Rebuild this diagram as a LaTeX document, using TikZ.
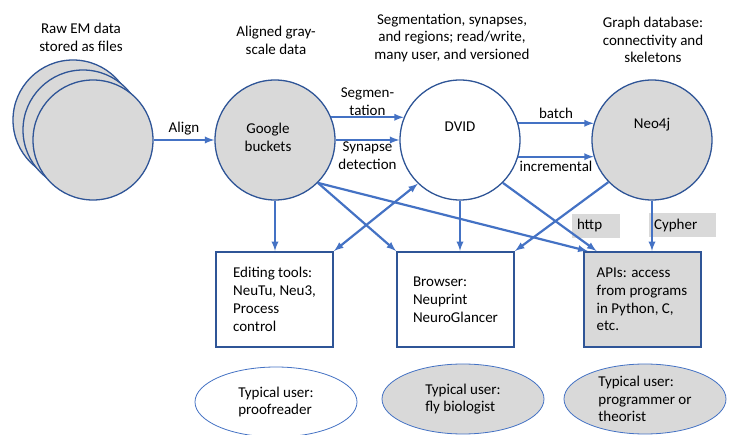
\documentclass[tikz,border=0pt]{standalone}
\usepackage{fontspec}
\setmainfont{Carlito}
\usetikzlibrary{shapes.geometric, arrows, positioning}

\definecolor{linkblue}{RGB}{68,114,196}
\definecolor{edgeblue}{RGB}{47,85,151}
\definecolor{fillgray}{RGB}{217,217,217}

\begin{document}
\begin{tikzpicture}[x=1pt, y=-1pt,
					font=\fontsize{15}{17.8}\selectfont,
					roundnode/.style={circle,
					minimum size=120pt,
					inner sep=0pt,
					line width=1.3pt,
					draw=edgeblue,
					fill=fillgray},
					squarednode/.style={rectangle,
					minimum width=117pt,
					minimum height=95pt,
					line width=2pt,
					align=left,
					draw=edgeblue,
					fill=white},
					usernode/.style={ellipse,
					minimum width=162pt,
					minimum height=70pt,
					inner sep=0pt,
					line width=0.8pt,
					align=left,
					draw=linkblue,
					fill=fillgray},
					tagnode/.style={rectangle,
					inner xsep=5pt,
					minimum height=24pt,
					align=left,
					fill=fillgray},
					captionnode/.style={align=center},
					link/.style={-latex, linkblue, line width=2.2pt},
					linklabel/.style={text=black}
					]

\useasboundingbox (0,0) rectangle (734,435);

% captions on top
\node[captionnode] (rawcap) at (81,37) {Raw EM data\\stored as files};
\node[captionnode] (googlecap) at (276,40) {Aligned gray-\\scale data};
\node[captionnode] (dvidcap) at (452,38) {Segmentation, synapses,\\and regions; read/write,\\many user, and versioned};
\node[captionnode] (neocap) at (653,40) {Graph database:\\connectivity and\\skeletons};

% storage nodes
\node[roundnode] (raw3) at (73,120) {};
\node[roundnode] (raw2) at (83,130) {};
\node[roundnode] (raw1) at (93,140) {};
\node[roundnode, label={[xshift=-7pt, yshift=3pt, align=center]center:Google\\buckets}] (google) at (275,140) {};
\node[roundnode, fill=white, label={[yshift=13pt]center:DVID}] (dvid) at (460,140) {};
\node[roundnode, label={[yshift=15pt]center:Neo4j}] (neo) at (652,140) {};

% tool nodes
\node[squarednode] (edit) at (274.5,299.5) {Editing tools:\\NeuTu, Neu3,\\Process\\control};
\node[squarednode] (browser) at (455.5,299.5) {Browser:\\Neuprint\\NeuroGlancer};
\node[squarednode, fill=fillgray] (api) at (642,299.5) {APIs: access\\from programs\\in Python, C,\\etc.};

% protocol tags
\node[tagnode, text width=38pt] (http) at (596,226) {http};
\node[tagnode, text width=57pt] (cypher) at (682.5,225.5) {Cypher};

% user nodes
\node[usernode, fill=white] (proof) at (276,402) {Typical user:\\proofreader};
\node[usernode] (biol) at (463,399) {Typical user:\\fly biologist};
\node[usernode] (prog) at (645,399) {Typical user:\\programmer or\\theorist};

% arrows between stores
\path[link] (raw1.east) edge node[linklabel, above] {Align} (google.west);
\path[link] (google.22) edge node[linklabel, above, inner sep=1pt, align=center] {Segmen-\\tation} (dvid.158);
\path[link] (google.east) edge node[linklabel, below, inner sep=1pt, align=center] {Synapse\\detection} (dvid.west);
\path[link] (dvid.16) edge node[linklabel, above] {batch} (neo.164);
\path[link] (dvid.-16) edge node[linklabel, below] {incremental} (neo.-164);

% arrows stores to tools
%google
\path[link] (google.south) edge (google.south |- edit.north);
\path[link] (google.-45) edge (browser.north west);
\path[link] (google.-45) edge ([xshift=5pt]api.north west);
%dvid
\path[link, latex-latex] (edit.north east) edge (dvid.-134);
\path[link] (dvid.south) edge (dvid.south |- browser.north);
\path[link] (dvid.-45) edge ([xshift=14pt]api.north west);
%neo4j
\path[link] (neo.-136) edge (browser.north east);
\path[link] (neo.south) edge (neo.south |- api.north);

\end{tikzpicture}
\end{document}
